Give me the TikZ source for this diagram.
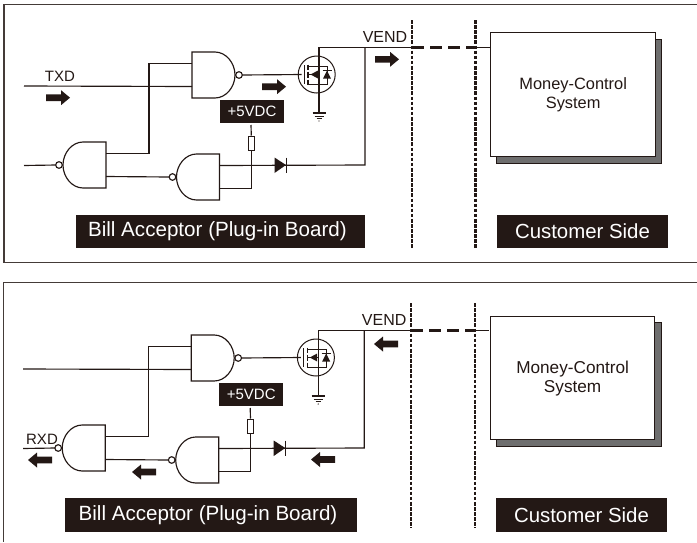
\documentclass[tikz,border=0pt]{standalone}
\usepackage{fontspec}
\setmainfont{Liberation Sans}
\definecolor{ink}{HTML}{231815}
\definecolor{shadowgray}{HTML}{6E6E6E}
\tikzset{
  wire/.style={draw=ink,line width=1.15pt},
  frameline/.style={draw=ink!85,line width=1.2pt},
  boundary/.style={draw=ink,line width=2.1pt,dash pattern=on 3.6pt off 1.5pt},
  linkdash/.style={draw=ink,line width=2.2pt,dash pattern=on 11.5pt off 6.5pt},
  blacklabel/.style={fill=ink,text=white,inner sep=0pt,align=center},
  plainlabel/.style={text=ink,inner sep=0pt,align=center},
  mainbox/.style={draw=ink,fill=white,line width=1.3pt,inner sep=0pt,anchor=north west,align=center,text=ink},
  shadowbox/.style={draw=ink,fill=shadowgray,line width=.6pt,inner sep=0pt,anchor=north west},
  nandgate/.pic={
    \draw[wire,fill=white] (0,0) -- (23,0) .. controls (34,0) and (43,11) .. (43,23)
       .. controls (43,35) and (34,46) .. (23,46) -- (0,46) -- cycle;
    \draw[wire,fill=white] (47,23) circle[radius=3.3pt];
    \coordinate (-a) at (0,11.5);
    \coordinate (-b) at (0,34.5);
    \coordinate (-o) at (50.3,23);
  },
  blockarrow/.pic={
    \fill[ink] (0,-3.3) -- (15,-3.3) -- (15,-7.5) -- (24,0) -- (15,7.5) -- (15,3.3) -- (0,3.3) -- cycle;
  },
  fetinside/.pic={
    \draw[wire,line width=.9pt] (-15,-9.5) -- (-15,9.5);
    \draw[wire,line width=1.1pt] (-11,-10) -- (-11,-5) (-11,-3) -- (-11,3) (-11,5) -- (-11,10);
    \draw[wire,line width=.9pt] (-11,-8) -- (8,-8) -- (8,10) -- (-11,10);
    \draw[wire,line width=.9pt] (0,0) -- (0,10);
    \draw[wire,line width=.9pt] (-11,0) -- (0,0);
    \fill[ink] (-8.5,0) -- (-1,-4) -- (-1,4) -- cycle;
    \fill[ink] (8,-4) -- (12,4) -- (4,4) -- cycle;
    \draw[wire,line width=.9pt] (3.5,-4) -- (12.5,-4);
  },
  groundsym/.pic={
    \draw[wire] (-6.5,0) -- (6.5,0);
    \draw[wire,line width=.8pt] (-4.5,3) -- (4.5,3);
    \draw[wire,line width=.8pt] (-2.5,5.5) -- (2.5,5.5);
    \fill[ink] (0,8) circle[radius=.7pt];
  }
}
\newcommand{\circuitcore}{%
  \pic (g1) at (192,52) {nandgate};
  \pic[xscale=-1] (g2) at (106,142) {nandgate};
  \pic[xscale=-1] (g3) at (219.5,154) {nandgate};
  \node[draw=ink,line width=1pt,circle,minimum size=37pt,inner sep=0pt] (fet) at (316.7,74.5) {};
  \pic at (319,74.5) {fetinside};
  \coordinate (gatepin) at (301.7,74.5);
  \coordinate (drain) at (319,47.5);
  \coordinate (gnd) at (319,113);
  \pic at (319,113) {groundsym};
  \coordinate (leftin) at (24,86);
  \coordinate (leftlow) at (24,165.5);
  \coordinate (vtop) at (365,47.5);
  \coordinate (vbot) at (365,165);
  \coordinate (jv) at (149,110);
  \coordinate (rtop) at (251,125);
  \coordinate (bound) at (412,47.5);
  \coordinate (bound2) at (475.5,47.5);
  \coordinate (boxpin) at (490,47.5);
  \node[draw=ink,line width=1pt,fill=white,minimum width=6.5pt,minimum height=14pt,inner sep=0pt] (res) at (251.3,143) {};
  \node[blacklabel,minimum width=64pt,minimum height=23pt,font=\fontsize{15}{17}\selectfont] (vdc) at (252,111.5) {+5VDC};
  \node[plainlabel,font=\fontsize{16}{18}\selectfont] (vend) at (385,37) {VEND};
  \draw[wire] (g1-a) -| (jv) |- (g2-a);
  \draw[wire] (leftin) -- (g1-b);
  \draw[wire] (g1-o) -- (gatepin);
  \draw[wire] (leftlow) -- (g2-o);
  \draw[wire] (g2-b) -- (g3-o);
  \draw[wire] (g3-a) -- (vbot) -- (vtop);
  \draw[wire] (g3-b) -| (res.south);
  \draw[wire] (res.north) -- (rtop);
  \draw[wire] (gnd) -- (drain) -- (bound);
  \draw[linkdash] (bound) -- (bound2);
  \draw[wire] (bound2) -- (boxpin);
  \fill[ink] (274.5,157.5) -- (286,165) -- (274.5,173) -- cycle;
  \draw[wire,line width=1.1pt] (286.5,157.5) -- (286.5,173);
}
\begin{document}
\begin{tikzpicture}[x=1pt,y=-1pt]
\useasboundingbox (0,0) rectangle (697,542);
\fill[white] (0,0) rectangle (697,542);
% frames
\coordinate (f1a) at (697,4.7);
\coordinate (f1b) at (4,4.7);
\coordinate (f1c) at (4,262.5);
\coordinate (f1d) at (697,262.5);
\draw[frameline] (f1a) -- (f1b) -- (f1c) -- (f1d);
\coordinate (f2a) at (697,282.5);
\coordinate (f2b) at (3.5,282.5);
\coordinate (f2c) at (3.5,542);
\draw[frameline] (f2a) -- (f2b) -- (f2c);
% upper panel
\begin{scope}[name prefix=up-]
  \node[shadowbox,minimum width=165pt,minimum height=124pt] (shadow) at (496,39) {};
  \node[mainbox,minimum width=165pt,minimum height=124pt,font=\fontsize{16.4}{19}\selectfont] (money) at (490,32) {Money-Control\\System};
  \circuitcore
  \coordinate (b1t) at (412,20);
  \coordinate (b1b) at (412,248);
  \coordinate (b2t) at (475.5,20);
  \coordinate (b2b) at (475.5,248);
  \draw[boundary] (b1t) -- (b1b);
  \draw[boundary] (b2t) -- (b2b);
  \node[plainlabel,font=\fontsize{15}{17}\selectfont] (txd) at (60,76) {TXD};
  \pic at (46,97.7) {blockarrow};
  \pic at (262,86.7) {blockarrow};
  \pic at (375,59.3) {blockarrow};
  \node[blacklabel,minimum width=288.5pt,minimum height=33pt,font=\fontsize{20.6}{22}\selectfont] (bill) at (220.7,231.5) {Bill Acceptor (Plug-in Board)\hspace{6.5pt}};
  \node[blacklabel,minimum width=171pt,minimum height=33pt,font=\fontsize{20.4}{22}\selectfont] (cust) at (582.5,231.5) {Customer Side};
\end{scope}
% lower panel
\begin{scope}[name prefix=lo-,shift={(-0.8,283)}]
  \node[shadowbox,minimum width=165pt,minimum height=124pt] (shadow) at (496.5,39) {};
  \node[mainbox,minimum width=164pt,minimum height=123pt,font=\fontsize{17.2}{19}\selectfont] (money) at (490.8,33) {Money-Control\\System};
  \circuitcore
  \coordinate (b1t) at (412,20);
  \coordinate (b1b) at (412,245);
  \coordinate (b2t) at (475.5,20);
  \coordinate (b2b) at (475.5,245);
  \draw[boundary] (b1t) -- (b1b);
  \draw[boundary] (b2t) -- (b2b);
  \node[plainlabel,font=\fontsize{15}{17}\selectfont] (rxd) at (42.8,156) {RXD};
  \pic[xscale=-1] at (52.8,177) {blockarrow};
  \pic[xscale=-1] at (156.8,189) {blockarrow};
  \pic[xscale=-1] at (335.8,176.5) {blockarrow};
  \pic[xscale=-1] at (398.8,61) {blockarrow};
  \node[blacklabel,minimum width=292pt,minimum height=34pt,font=\fontsize{20.6}{22}\selectfont] (bill) at (211.8,232) {Bill Acceptor (Plug-in Board)\hspace{6pt}};
  \node[blacklabel,minimum width=171pt,minimum height=34pt,font=\fontsize{20.4}{22}\selectfont] (cust) at (582.3,232) {Customer Side};
\end{scope}
\end{tikzpicture}
\end{document}
